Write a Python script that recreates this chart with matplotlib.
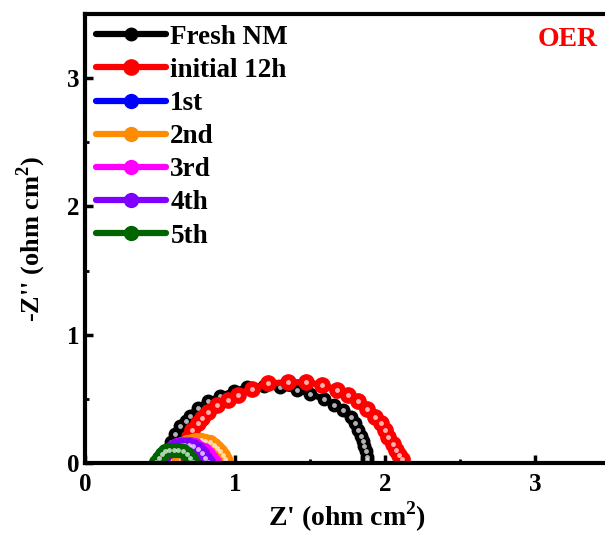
import numpy as np
import matplotlib
matplotlib.use("Agg")
import matplotlib.pyplot as plt

plt.rcParams['font.family'] = ['Liberation Serif', 'DejaVu Serif']
plt.rcParams['font.weight'] = 'bold'
plt.rcParams['mathtext.fontset'] = 'custom'
plt.rcParams['mathtext.rm'] = 'Liberation Serif:bold'
plt.rcParams['mathtext.bf'] = 'Liberation Serif:bold'

labels = ["Fresh NM", "initial 12h", "1st", "2nd", "3rd", "4th", "5th"]
colors = ["#000000", "#ff0000", "#0000ff", "#ff8c00", "#ff00ff", "#8000ff", "#006400"]

freshX = [0.50, 0.52, 0.54, 0.57, 0.60, 0.63, 0.67, 0.70, 0.75, 0.82, 0.90, 0.99, 1.08, 1.19,
          1.30, 1.41, 1.50, 1.59, 1.66, 1.72, 1.77, 1.80, 1.82, 1.84, 1.85, 1.86, 1.87, 1.88, 1.88]
freshY = [0.01, 0.05, 0.09, 0.16, 0.23, 0.29, 0.33, 0.37, 0.43, 0.48, 0.52, 0.56, 0.59, 0.60,
          0.59, 0.57, 0.54, 0.50, 0.45, 0.41, 0.36, 0.31, 0.26, 0.21, 0.17, 0.13, 0.09, 0.05, 0.02]

initX = [0.62, 0.64, 0.66, 0.69, 0.71, 0.75, 0.78, 0.82, 0.88, 0.95, 1.02, 1.11, 1.22, 1.35,
         1.47, 1.58, 1.68, 1.75, 1.82, 1.88, 1.93, 1.97, 2.00, 2.02, 2.05, 2.07, 2.09, 2.11]
initY = [0.03, 0.08, 0.14, 0.20, 0.26, 0.31, 0.35, 0.40, 0.45, 0.49, 0.53, 0.58, 0.62, 0.63,
         0.63, 0.61, 0.57, 0.53, 0.48, 0.42, 0.36, 0.31, 0.26, 0.20, 0.15, 0.10, 0.06, 0.03]

firstX = [0.52, 0.54, 0.56, 0.59, 0.62, 0.65, 0.68, 0.71, 0.74, 0.77, 0.80, 0.82, 0.84, 0.85]
firstY = [0.01, 0.05, 0.09, 0.12, 0.14, 0.15, 0.15, 0.14, 0.13, 0.11, 0.08, 0.05, 0.03, 0.01]

secondX = [0.56, 0.58, 0.60, 0.62, 0.65, 0.68, 0.71, 0.74, 0.77, 0.80, 0.83, 0.86, 0.88, 0.90,
           0.92, 0.93, 0.94]
secondY = [0.02, 0.06, 0.09, 0.12, 0.14, 0.16, 0.17, 0.18, 0.18, 0.17, 0.16, 0.14, 0.12, 0.09,
           0.06, 0.03, 0.01]

thirdX = [0.50, 0.52, 0.55, 0.58, 0.61, 0.64, 0.67, 0.70, 0.73, 0.76, 0.79, 0.82, 0.84, 0.86]
thirdY = [0.01, 0.05, 0.09, 0.12, 0.14, 0.15, 0.15, 0.15, 0.14, 0.12, 0.10, 0.07, 0.04, 0.01]

fourthX = [0.50, 0.52, 0.54, 0.57, 0.60, 0.63, 0.66, 0.69, 0.72, 0.75, 0.78, 0.80, 0.82]
fourthY = [0.01, 0.05, 0.08, 0.11, 0.13, 0.14, 0.14, 0.14, 0.13, 0.11, 0.08, 0.04, 0.01]

fifthX = [0.47, 0.49, 0.51, 0.53, 0.56, 0.59, 0.62, 0.65, 0.68, 0.70, 0.72]
fifthY = [0.01, 0.04, 0.07, 0.09, 0.10, 0.10, 0.10, 0.09, 0.07, 0.04, 0.01]

seriesX = [freshX, initX, firstX, secondX, thirdX, fourthX, fifthX]
seriesY = [freshY, initY, firstY, secondY, thirdY, fourthY, fifthY]
markerSizes = [9, 11, 10, 10, 10, 10, 10]


def main():
    fig = plt.figure(figsize=(6.05, 5.33), dpi=100)
    ax = fig.add_axes([0.1405, 0.1313, 0.8678, 0.8424])

    for x, y, c, lab, ms in zip(seriesX, seriesY, colors, labels, markerSizes):
        ax.plot(x, y, color=c, lw=4.5, marker='o', markersize=ms,
                markeredgecolor=c, label=lab, solid_capstyle='round')
        # highlight dot to give the ball look
        ax.plot(x, y, ls='none', marker='o', markersize=3.5,
                color='white', alpha=0.7, markeredgewidth=0)

    ax.set_xlim(0, 3.5)
    ax.set_ylim(0, 3.5)
    ax.set_xticks([0, 1, 2, 3])
    ax.set_yticks([0, 1, 2, 3])
    ax.set_xticks([0.5, 1.5, 2.5], minor=True)
    ax.set_yticks([0.5, 1.5, 2.5], minor=True)
    ax.tick_params(which='major', direction='in', length=6, width=2.5, labelsize=18, pad=4)
    ax.tick_params(axis='x', which='major', pad=7)
    ax.tick_params(which='minor', direction='in', length=3, width=2)
    for s in ax.spines.values():
        s.set_linewidth(3)

    ax.set_xlabel("Z' (ohm cm$^{2}$)", fontsize=20, fontweight='bold', labelpad=3)
    ax.set_ylabel("-Z'' (ohm cm$^{2}$)", fontsize=19, fontweight='bold', labelpad=14)

    leg = ax.legend(loc='upper left', frameon=False, fontsize=19.5, handlelength=2.6,
                    handletextpad=0.15, labelspacing=0.3, borderaxespad=0.05,
                    borderpad=0.35)
    for t in leg.get_texts():
        t.set_fontweight('bold')

    ax.text(3.22, 3.30, "OER", color='red', fontsize=20, fontweight='bold',
            ha='center', va='center')

    fig.savefig("out.png", dpi=100)


if __name__ == "__main__":
    main()
